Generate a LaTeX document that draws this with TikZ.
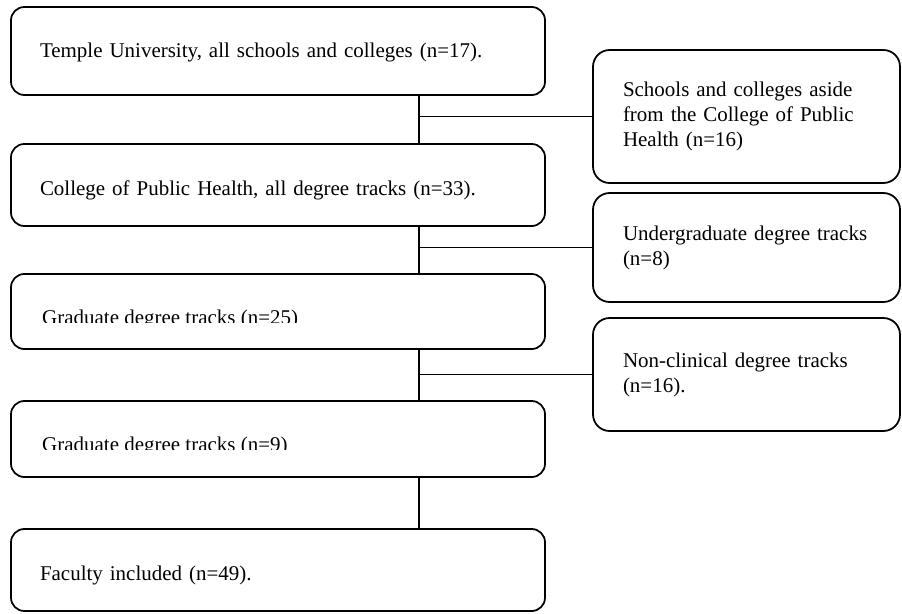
\documentclass[tikz,border=0pt]{standalone}
\usepackage{fontspec}
\setmainfont{Liberation Serif}

\begin{document}
\begin{tikzpicture}[
  box/.style={draw, rounded corners=0.4cm, line width=1.5pt, minimum width=16.02cm,
              inner xsep=0.87cm, inner ysep=0pt, text width=14.28cm, align=left,
              text height=1.53cm, font=\fontsize{17.9pt}{21.3pt}\selectfont},
  side/.style={draw, rounded corners=0.5cm, line width=1.5pt, minimum width=9.21cm,
               inner xsep=0.9cm, text width=7.41cm, align=left,
               font=\fontsize{17.9pt}{21.3pt}\selectfont},
  cut/.style={anchor=base west, inner sep=0pt, font=\fontsize{17.9pt}{21.3pt}\selectfont},
  spine/.style={line width=2pt},
  arm/.style={line width=1.5pt}
]
  \useasboundingbox (0,0) rectangle (27.06,-18.39);
  \coordinate (x) at (12.57,0);

  % main column
  \node[box, text depth=1.11cm] (temple)  at (8.34, -1.53)  {Temple University, all schools and colleges (n=17).};
  \node[box, text depth=0.93cm] (cph)     at (8.34, -5.55)  {College of Public Health, all degree tracks (n=33).};
  \node[box, text depth=0.72cm] (grad)    at (8.34, -9.345) {};
  \node[box, text depth=0.75cm] (gradsub) at (8.34, -13.17) {};
  \node[box, text depth=0.93cm] (fac)     at (8.34, -17.1)  {Faculty included (n=49).};

  % text boxes that cut off their last line
  \begin{scope}
    \clip (0.5,-8.6) rectangle (16,-9.66);
    \node[cut] (gradtxt) at (1.26,-9.72) {Graduate degree tracks (n=25)};
  \end{scope}
  \begin{scope}
    \clip (0.5,-12.4) rectangle (16,-13.47);
    \node[cut] (gradsubtxt) at (1.26,-13.53) {Graduate degree tracks (n=9)};
  \end{scope}

  % excluded
  \node[side, minimum height=3.99cm] (other) at (22.395, -3.495) {Schools and colleges aside\\ from the College of Public\\ Health (n=16)};
  \node[side, minimum height=3.27cm] (ugrad) at (22.395, -7.425) {Undergraduate degree tracks\\ (n=8)};
  \node[side, minimum height=3.39cm] (noncl) at (22.395, -11.235) {Non-clinical degree tracks\\ (n=16).};

  \draw[spine] (temple.south -| x) -- (cph.north -| x);
  \draw[spine] (cph.south -| x)    -- (grad.north -| x);
  \draw[spine] (grad.south -| x)   -- (gradsub.north -| x);
  \draw[spine] (gradsub.south -| x) -- (fac.north -| x);

  \draw[arm] (other.west -| x) -- (other.west);
  \draw[arm] (ugrad.west -| x) -- (ugrad.west);
  \draw[arm] (noncl.west -| x) -- (noncl.west);
\end{tikzpicture}
\end{document}
